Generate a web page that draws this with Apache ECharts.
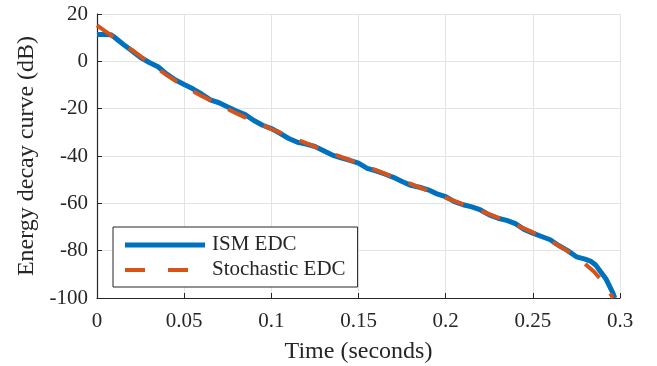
<!DOCTYPE html>
<html>
<head>
<meta charset="utf-8">
<title>Energy decay curve</title>
<script src="https://cdn.jsdelivr.net/npm/echarts@6/dist/echarts.min.js"></script>
<style>
  html, body { margin: 0; padding: 0; background: #fff; }
  #chart { width: 657px; height: 366px; }
</style>
</head>
<body>
<div id="chart"></div>
<script>
// Image-source-method EDC (dB) sampled over time (s)
const ismTime = [0, 0.005, 0.008, 0.010, 0.015, 0.020, 0.025, 0.030, 0.035, 0.040,
  0.045, 0.050, 0.055, 0.060, 0.065, 0.070, 0.075, 0.080, 0.085, 0.090,
  0.095, 0.100, 0.105, 0.110, 0.115, 0.120, 0.125, 0.130, 0.135, 0.140,
  0.145, 0.150, 0.155, 0.160, 0.165, 0.170, 0.175, 0.180, 0.185, 0.190,
  0.195, 0.200, 0.205, 0.210, 0.215, 0.220, 0.225, 0.230, 0.235, 0.240,
  0.245, 0.250, 0.255, 0.260, 0.265, 0.270, 0.275, 0.280, 0.283, 0.286,
  0.289, 0.292, 0.294, 0.296, 0.297];
const ismEdc = [11.3, 11.3, 11.2, 10.2, 7.2, 4.5, 1.6, -0.5, -2.3, -5.4,
  -7.9, -9.8, -11.6, -13.8, -16.3, -17.5, -19.3, -21.0, -22.5, -25.0,
  -27.0, -28.4, -30.4, -32.6, -34.2, -35.0, -36.0, -37.8, -39.6, -40.8,
  -41.8, -43.0, -45.2, -46.3, -47.6, -49.0, -50.8, -52.4, -53.2, -54.3,
  -56.0, -57.2, -59.3, -60.6, -61.5, -62.8, -64.9, -66.3, -67.2, -68.6,
  -71.0, -72.6, -74.0, -75.4, -77.9, -80.0, -82.6, -83.6, -84.4, -86.0,
  -89.0, -92.0, -95.0, -98.0, -100];

// Stochastic-model EDC (dB)
const stochTime = [0, 0.01, 0.02, 0.03, 0.04, 0.05, 0.06, 0.07, 0.08, 0.09,
  0.10, 0.11, 0.12, 0.13, 0.14, 0.15, 0.16, 0.17, 0.18, 0.19,
  0.20, 0.21, 0.22, 0.23, 0.24, 0.25, 0.26, 0.27, 0.28, 0.285,
  0.29, 0.293, 0.296];
const stochEdc = [15.2, 10.0, 4.8, -0.6, -5.8, -10.6, -14.6, -18.3, -22.0, -25.4,
  -28.6, -31.6, -34.6, -37.5, -40.4, -43.1, -46.0, -48.9, -51.8, -54.7,
  -57.6, -60.4, -63.2, -66.0, -69.0, -72.3, -75.8, -80.2, -85.6, -88.8,
  -93.0, -96.5, -100];

const seriesNames = ['ISM EDC', 'Stochastic EDC'];
const xTickStep = 0.05;
const yTickStep = 20;

const pairs = (xs, ys) => xs.map((x, i) => [x, ys[i]]);

const SERIF = '"Liberation Serif", "DejaVu Serif", serif';
const AXIS_DARK = '#262626';
const BLUE = '#0072BD';
const ORANGE = '#D95319';

// Legend box geometry (text comes from the legend component, keys are drawn as graphics)
const LEG_LEFT = 113, LEG_TOP = 227, LEG_PAD = 12, KEY_W = 80;
const ROW1_Y = 245, ROW2_Y = 270;

const chart = echarts.init(document.getElementById('chart'), null, { renderer: 'canvas' });

chart.setOption({
  animation: false,
  backgroundColor: '#ffffff',
  grid: { left: 97, right: 37, top: 14, bottom: 68, containLabel: false, outerBoundsMode: 'none' },
  xAxis: {
    type: 'value',
    min: 0, max: 0.3, interval: xTickStep,
    name: 'Time (seconds)',
    nameLocation: 'middle',
    nameGap: 42,
    nameTextStyle: { fontFamily: SERIF, fontSize: 24, color: AXIS_DARK },
    axisLine: { show: true, onZero: false, lineStyle: { color: AXIS_DARK, width: 1.2 } },
    axisTick: { show: true, inside: true, length: 5, lineStyle: { color: AXIS_DARK } },
    axisLabel: { fontFamily: SERIF, fontSize: 21, color: AXIS_DARK, margin: 13 },
    splitLine: { show: true, lineStyle: { color: '#e3e3e3', width: 1 } }
  },
  yAxis: {
    type: 'value',
    min: -100, max: 20, interval: yTickStep,
    name: 'Energy decay curve (dB)',
    nameLocation: 'middle',
    nameGap: 58,
    nameTextStyle: { fontFamily: SERIF, fontSize: 24, color: AXIS_DARK },
    axisLine: { show: true, onZero: false, lineStyle: { color: AXIS_DARK, width: 1.2 } },
    axisTick: { show: true, inside: true, length: 5, lineStyle: { color: AXIS_DARK } },
    axisLabel: { fontFamily: SERIF, fontSize: 21, color: AXIS_DARK, margin: 9 },
    splitLine: { show: true, lineStyle: { color: '#e3e3e3', width: 1 } }
  },
  legend: {
    orient: 'vertical',
    left: LEG_LEFT, top: LEG_TOP,
    icon: 'none',
    itemWidth: KEY_W, itemHeight: 5, itemGap: 4,
    backgroundColor: '#ffffff',
    borderColor: AXIS_DARK, borderWidth: 1, borderRadius: 0,
    padding: [7, 12, 7, LEG_PAD],
    textStyle: { fontFamily: SERIF, fontSize: 21, color: AXIS_DARK, padding: [0, 0, 0, 2] },
    data: seriesNames
  },
  graphic: [
    {
      type: 'line', z: 100, silent: true,
      shape: { x1: LEG_LEFT + LEG_PAD, y1: ROW1_Y, x2: LEG_LEFT + LEG_PAD + KEY_W, y2: ROW1_Y },
      style: { stroke: BLUE, lineWidth: 5 }
    },
    {
      type: 'line', z: 100, silent: true,
      shape: { x1: LEG_LEFT + LEG_PAD, y1: ROW2_Y, x2: LEG_LEFT + LEG_PAD + 63, y2: ROW2_Y },
      style: { stroke: ORANGE, lineWidth: 4, lineDash: [20, 23] }
    }
  ],
  series: [
    {
      name: seriesNames[0],
      type: 'line',
      data: pairs(ismTime, ismEdc),
      showSymbol: false, symbol: 'none',
      lineStyle: { color: BLUE, width: 5 },
      itemStyle: { color: BLUE },
      z: 2
    },
    {
      name: seriesNames[1],
      type: 'line',
      data: pairs(stochTime, stochEdc),
      showSymbol: false, symbol: 'none',
      lineStyle: { color: ORANGE, width: 4, type: [20, 19] },
      itemStyle: { color: ORANGE },
      z: 3
    }
  ]
});
</script>
</body>
</html>
